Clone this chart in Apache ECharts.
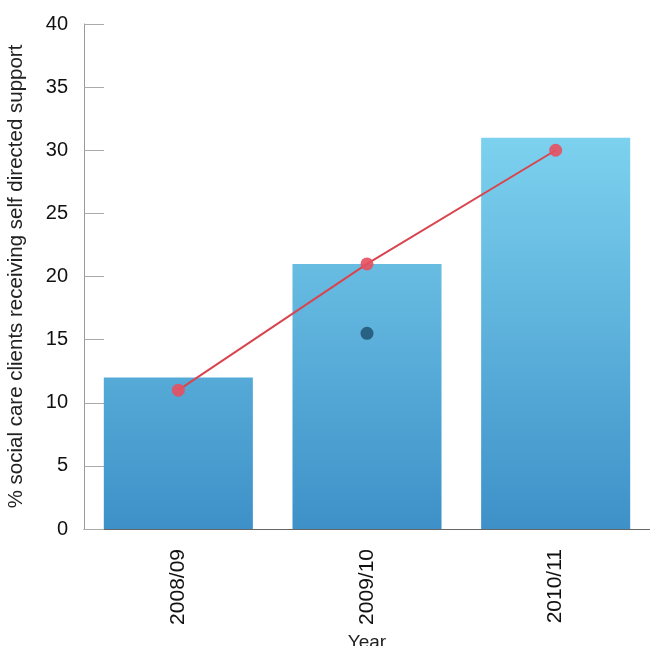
<!DOCTYPE html>
<html>
<head>
<meta charset="utf-8">
<script src="https://cdn.jsdelivr.net/npm/echarts@6/dist/echarts.min.js"></script>
<style>
html,body{margin:0;padding:0;background:#fff;}
#chart{width:650px;height:646px;}
</style>
</head>
<body>
<div id="chart"></div>
<script>
const categories = ['2008/09', '2009/10', '2010/11'];
const barValues = [12, 21, 31];
const lineValues = [11, 21, 30];
const dotValues = [null, 15.5, null];
const yTicks = [0, 5, 10, 15, 20, 25, 30, 35, 40];

const chart = echarts.init(document.getElementById('chart'));
const font = 'Liberation Sans, Arial, Helvetica, sans-serif';
chart.setOption({
  animation: false,
  grid: { left: 84, right: 0, top: 24, bottom: 117, containLabel: false, outerBoundsMode: 'none' },
  xAxis: {
    type: 'category',
    data: categories,
    name: 'Year',
    nameLocation: 'middle',
    nameGap: 100,
    nameTextStyle: { fontFamily: font, fontSize: 19, color: '#222' },
    axisLine: { lineStyle: { color: '#666', width: 1 } },
    axisTick: { inside: true, length: 22, lineStyle: { color: '#c8c8c8' } },
    axisLabel: { rotate: 90, margin: 20, fontFamily: font, fontSize: 21, color: '#111' }
  },
  yAxis: {
    type: 'value',
    min: yTicks[0],
    max: yTicks[yTicks.length - 1],
    interval: 5,
    name: '% social care clients receiving self directed support',
    nameLocation: 'middle',
    nameGap: 57,
    nameTextStyle: { fontFamily: font, fontSize: 20.5, color: '#222' },
    axisLine: { show: true, lineStyle: { color: '#999', width: 1 } },
    axisTick: { show: true, inside: true, length: 20, lineStyle: { color: '#aaa' } },
    axisLabel: { margin: 16, fontFamily: font, fontSize: 20, color: '#111' },
    splitLine: { show: false }
  },
  series: [
    {
      type: 'bar',
      data: barValues,
      barWidth: '79%',
      itemStyle: {
        color: new echarts.graphic.LinearGradient(0, 24, 0, 529, [
          { offset: 0, color: '#8fe4fa' },
          { offset: 1, color: '#3d91c8' }
        ], true)
      }
    },
    {
      type: 'line',
      data: lineValues,
      symbol: 'circle',
      symbolSize: 13,
      lineStyle: { color: '#d9454f', width: 2 },
      itemStyle: { color: 'rgba(230,80,95,0.9)' },
      z: 5
    },
    {
      type: 'scatter',
      data: dotValues,
      symbol: 'circle',
      symbolSize: 13,
      itemStyle: { color: '#1d4d6b' },
      z: 6
    }
  ]
});
</script>
</body>
</html>
